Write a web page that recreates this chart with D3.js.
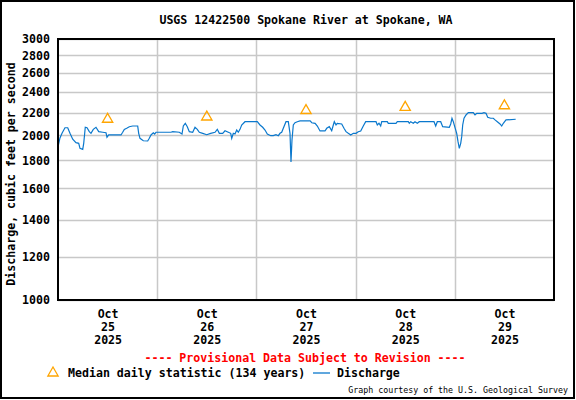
<!DOCTYPE html>
<html>
<head>
<meta charset="utf-8">
<script src="https://cdn.jsdelivr.net/npm/d3@7"></script>
<style>
  html, body { margin: 0; padding: 0; background: #fff; }
  svg { display: block; }
  text { font-family: "DejaVu Sans Mono", "Liberation Mono", monospace; }
</style>
</head>
<body>
<svg id="chart" width="576" height="400"></svg>
<script>
// ---- data ----
const titleText = "USGS 12422500 Spokane River at Spokane, WA";
const yAxisLabel = "Discharge, cubic feet per second";
const yTicks = [1000, 1200, 1400, 1600, 1800, 2000, 2200, 2400, 2600, 2800, 3000];
const days = ["2025-10-25", "2025-10-26", "2025-10-27", "2025-10-28", "2025-10-29"];
const dayLabels = [["Oct", "25", "2025"], ["Oct", "26", "2025"], ["Oct", "27", "2025"], ["Oct", "28", "2025"], ["Oct", "29", "2025"]];
const medianValues = [2140, 2160, 2220, 2250, 2265];
// hours since 2025-10-25 00:00
const hours = [0, 0.48, 0.97, 1.69, 2.35, 2.9, 3.56, 4.35, 5.01, 5.32, 5.98, 6.22, 6.6, 7.02, 7.57, 7.98, 8.54, 9.19, 9.85, 10.81, 11.61, 11.85, 12.27, 15.24, 15.65, 16.04, 16.62, 17.25, 18.07, 19.28, 19.52, 19.84, 20.64, 21.7, 22.09, 22.5, 23.06, 23.4, 23.71, 27.34, 27.75, 29.35, 30.0, 30.32, 30.8,
  31.28, 31.77, 32.59, 33.15, 33.7, 34.19, 35.01, 35.98, 36.94, 37.99, 38.54, 39.03, 39.85, 40.4, 41.2, 41.78, 42.03, 42.41, 42.82, 43.24, 43.62, 44.03, 44.44, 45.24, 48.22, 48.87, 49.52, 50.08, 50.64, 51.46, 52.09, 52.74, 53.3, 53.71, 54.12, 54.51, 55.16, 55.72, 56.13, 56.37, 56.61, 56.93, 57.34, 57.9, 58.55,
  61.0, 61.4, 62.2, 62.74, 63.39, 64.6, 65.01, 65.64, 66.22, 66.61, 66.85, 67.26, 67.57, 68.64, 69.19, 69.68, 70.23, 70.82, 71.44, 72.1, 72.65, 73.24, 73.86, 74.44, 76.94, 77.25, 77.66, 78.07, 78.32, 79.67, 79.91, 81.78, 82.09, 84.75, 84.99, 85.33, 85.96, 86.37, 86.93, 87.41,
  90.97, 91.38, 91.77, 92.59, 93.07, 94.67, 95.01, 95.32, 95.64, 95.98, 96.46, 96.78, 97.09, 97.43, 97.67, 97.91, 98.23, 98.71, 99.27, 100.48, 100.89, 101.3, 102.58, 103.06, 103.55, 103.96, 104.69, 105.32, 105.73, 106.29, 106.94, 107.35, 107.74, 108.39, 110.73];
const discharge = [1906, 1978, 2018, 2065, 2065, 2018, 1967, 1939, 1934, 1893, 1885, 1934, 2069, 2065, 2031, 2017, 2051, 2069, 2031, 2026, 2022, 1984, 2003, 2003, 2026, 2051, 2060, 2074, 2080, 2080, 2017, 1975, 1955, 1953, 1975, 2003, 2022, 2011, 2026, 2026, 2031, 2026, 2011, 2080, 2104,
  2074, 2031, 2026, 2069, 2051, 2026, 2017, 2005, 2017, 2026, 2051, 2017, 2017, 2039, 2026, 2017, 1975, 2017, 2011, 2045, 2026, 2051, 2089, 2118, 2118, 2089, 2069, 2045, 2011, 1997, 1997, 2005, 1997, 2017, 2026, 2060, 2118, 2118, 2017, 1787, 1961, 2089, 2109, 2118, 2125,
  2125, 2109, 2104, 2080, 2037, 2037, 2060, 2074, 2039, 2089, 2118, 2089, 2104, 2098, 2060, 2031, 2017, 2003, 2017, 2017, 2031, 2037, 2080, 2118, 2118, 2089, 2104, 2080, 2118, 2118, 2104, 2104, 2118, 2118, 2104, 2118, 2104, 2118, 2104, 2118,
  2118, 2080, 2118, 2118, 2074, 2069, 2098, 2149, 2118, 2074, 2017, 1947, 1893, 1934, 1989, 2089, 2149, 2179, 2200, 2200, 2179, 2194, 2194, 2200, 2194, 2158, 2149, 2149, 2134, 2118, 2098, 2080, 2104, 2134, 2140];
const provisionalText = "---- Provisional Data Subject to Revision ----";
const legendMedian = "Median daily statistic (134 years)";
const legendDischarge = "Discharge";
const courtesyText = "Graph courtesy of the U.S. Geological Survey";

// ---- drawing ----
const svg = d3.select("#chart");
const W = 576, H = 400;
const plot = { left: 58, right: 554, top: 39, bottom: 300 };
const t0 = new Date(2025, 9, 25, 0, 0);
const toDate = h => new Date(t0.getTime() + h * 3600000);

const x = d3.scaleTime()
  .domain([t0, new Date(2025, 9, 30, 0, 0)])
  .range([plot.left, plot.right]);
const y = d3.scaleLog().domain([1000, 3000]).range([plot.bottom, plot.top]);

// outer frame
svg.append("rect").attr("x", 1).attr("y", 1).attr("width", W - 3).attr("height", H - 3)
  .attr("fill", "#fff").attr("stroke", "#000").attr("stroke-width", 2);

// grid
const grid = svg.append("g");
grid.selectAll("line.h").data(yTicks).join("line")
  .attr("x1", plot.left).attr("x2", plot.right)
  .attr("y1", d => Math.round(y(d)) + 0.5).attr("y2", d => Math.round(y(d)) + 0.5)
  .attr("stroke", "#c8c8c8").attr("stroke-width", 1.5);
const midnights = days.slice(1).map(d => new Date(d + "T00:00:00"));
grid.selectAll("line.v").data(midnights).join("line")
  .attr("x1", d => Math.round(x(d)) + 0.5).attr("x2", d => Math.round(x(d)) + 0.5)
  .attr("y1", plot.top).attr("y2", plot.bottom)
  .attr("stroke", "#c8c8c8").attr("stroke-width", 1.5);

// y axis labels
const yAxis = d3.axisLeft(y).tickValues(yTicks).tickFormat(d3.format("d")).tickSize(0).tickPadding(8);
const gy = svg.append("g").attr("transform", `translate(${plot.left},0)`).call(yAxis);
gy.select(".domain").remove();
gy.selectAll("text").attr("font-size", "11.6px").attr("font-weight", "bold")
  .attr("fill", "#000").attr("font-family", '"DejaVu Sans Mono", monospace');

// x axis labels (noon of each day)
const noons = days.map(d => new Date(d + "T12:00:00"));
const xAxis = d3.axisBottom(x).tickValues(noons).tickSize(0).tickFormat(() => "");
const gx = svg.append("g").attr("transform", `translate(0,${plot.bottom})`).call(xAxis);
gx.select(".domain").remove();
gx.selectAll(".tick").each(function (d, i) {
  const t = d3.select(this).select("text").attr("y", 0).attr("dy", null)
    .attr("font-size", "11.6px").attr("font-weight", "bold").attr("fill", "#000")
    .attr("font-family", '"DejaVu Sans Mono", monospace');
  dayLabels[i].forEach((s, k) => {
    t.append("tspan").attr("x", 0).attr("y", 18 + k * 13).text(s);
  });
});

// discharge line
const series = hours.map((h, i) => ({ t: toDate(h), v: discharge[i] }));
svg.append("path").datum(series)
  .attr("fill", "none").attr("stroke", "#0a78cd").attr("stroke-width", 1.2)
  .attr("d", d3.line().x(d => x(d.t)).y(d => y(d.v)));

// median triangles
const tri = d3.symbol().type(d3.symbolTriangle).size(46);
svg.selectAll("path.med").data(medianValues).join("path")
  .attr("transform", (d, i) => `translate(${x(noons[i])},${y(d)})`)
  .attr("d", tri).attr("fill", "none").attr("stroke", "#ffa500").attr("stroke-width", 1.3);

// plot frame
svg.append("rect").attr("x", plot.left).attr("y", plot.top)
  .attr("width", plot.right - plot.left).attr("height", plot.bottom - plot.top)
  .attr("fill", "none").attr("stroke", "#000").attr("stroke-width", 2);

// title
svg.append("text").attr("x", (plot.left + plot.right) / 2).attr("y", 24)
  .attr("text-anchor", "middle").attr("font-size", "11.6px").attr("font-weight", "bold")
  .text(titleText);

// y axis title
svg.append("text").attr("transform", `translate(15,174) rotate(-90)`)
  .attr("text-anchor", "middle").attr("font-size", "11.6px").attr("font-weight", "bold")
  .text(yAxisLabel);

// provisional
svg.append("text").attr("x", 305).attr("y", 362).attr("text-anchor", "middle")
  .attr("font-size", "11.6px").attr("font-weight", "bold").attr("fill", "#ff0000")
  .text(provisionalText);

// legend
svg.append("path").attr("transform", "translate(53,373)").attr("d", tri)
  .attr("fill", "none").attr("stroke", "#ffa500").attr("stroke-width", 1.3);
svg.append("text").attr("x", 68).attr("y", 377).attr("font-size", "11.6px").attr("font-weight", "bold")
  .text(legendMedian);
svg.append("line").attr("x1", 313).attr("x2", 330).attr("y1", 373).attr("y2", 373)
  .attr("stroke", "#0a78cd").attr("stroke-width", 1.3);
svg.append("text").attr("x", 337).attr("y", 377).attr("font-size", "11.6px").attr("font-weight", "bold")
  .text(legendDischarge);

// courtesy
svg.append("text").attr("x", 568).attr("y", 393).attr("text-anchor", "end")
  .attr("font-size", "8.3px").text(courtesyText);
</script>
</body>
</html>
